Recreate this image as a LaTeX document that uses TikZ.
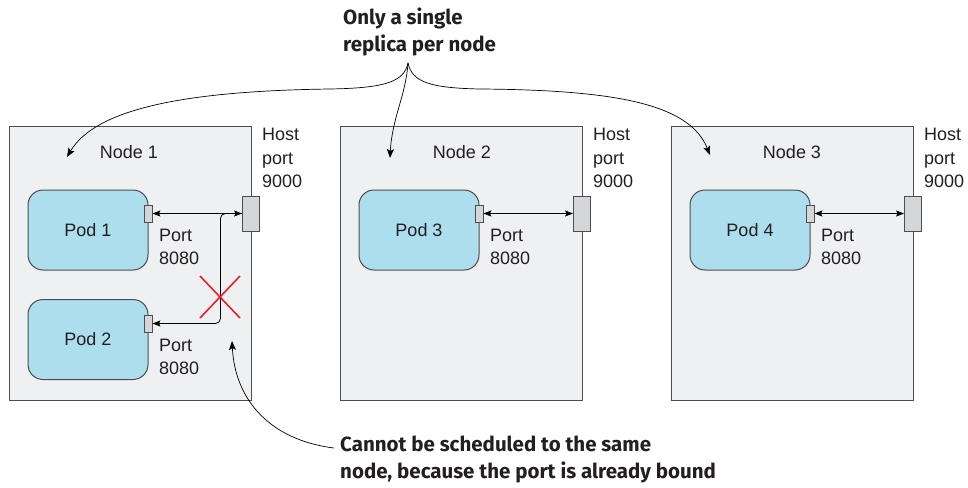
\documentclass[tikz,border=0pt]{standalone}
\usepackage{fontspec}
\setmainfont{Liberation Sans}
\newfontfamily\annfont{Fira Sans}
\usetikzlibrary{arrows.meta}
\definecolor{boxfill}{HTML}{EFF0F2}
\definecolor{boxline}{HTML}{4D4D4F}
\definecolor{podfill}{HTML}{ACDEEE}
\definecolor{portfill}{HTML}{D5D6D8}
\definecolor{txt}{HTML}{231F20}
\definecolor{xred}{HTML}{E8202A}
\begin{document}
\begin{tikzpicture}[x=1pt,y=-1pt,
  nodebox/.style={draw=boxline, fill=boxfill, line width=1pt, minimum width=242pt, minimum height=274pt, inner sep=0pt},
  podbox/.style={draw=boxline, fill=podfill, line width=1pt, rounded corners=15pt, minimum width=120pt, minimum height=80pt, inner sep=0pt, font=\fontsize{18}{22}\selectfont, text=txt},
  smallport/.style={draw=boxline, fill=portfill, line width=0.9pt, minimum width=8pt, minimum height=17pt, inner sep=0pt},
  hostport/.style={draw=boxline, fill=portfill, line width=0.9pt, minimum width=17pt, minimum height=35pt, inner sep=0pt},
  lbl/.style={font=\fontsize{18}{23.5}\selectfont, text=txt, align=left, inner sep=0pt, anchor=north west},
  ttl/.style={font=\fontsize{18}{22}\selectfont, text=txt, inner sep=0pt},
  ann/.style={font=\annfont\bfseries\fontsize{20.5}{26.5}\selectfont, text=txt, align=left, inner sep=0pt, anchor=north west},
  conn/.style={line width=0.8pt, {Stealth[length=8pt,width=6pt,inset=1.5pt]}-{Stealth[length=8pt,width=6pt,inset=1.5pt]}},
  arr/.style={line width=0.8pt, -{Stealth[length=8pt,width=6pt,inset=1.5pt]}},
  callout/.style={line width=0.7pt, -{Stealth[length=9pt,width=7pt,inset=2pt]}}
]
\useasboundingbox (0,0) rectangle (968,487);

% worker nodes
\node[nodebox] (n1) at (130,263) {};
\node[nodebox] (n2) at (461,263) {};
\node[nodebox] (n3) at (792,263) {};

\node[ttl] (t1) at (129,152) {Node 1};
\node[ttl] (t2) at (462,152) {Node 2};
\node[ttl] (t3) at (792,152) {Node 3};

% pods
\node[podbox] (p1) at (88,230) {Pod 1};
\node[podbox] (p2) at (88,339.5) {Pod 2};
\node[podbox] (p3) at (419,230) {Pod 3};
\node[podbox] (p4) at (750,230) {Pod 4};

% pod ports
\node[smallport] (q1) at (148,213.5) {};
\node[smallport] (q2) at (148,323.5) {};
\node[smallport] (q3) at (479,213.5) {};
\node[smallport] (q4) at (810,213.5) {};

% host ports
\node[hostport] (h1) at (251,213.5) {};
\node[hostport] (h2) at (582,213.5) {};
\node[hostport] (h3) at (913,213.5) {};

% labels
\node[lbl] (hl1) at (262,128) {Host\\port\\9000};
\node[lbl] (hl2) at (593,128) {Host\\port\\9000};
\node[lbl] (hl3) at (924,128) {Host\\port\\9000};

\node[lbl] (pl1) at (159,228.5) {Port\\8080};
\node[lbl] (pl2) at (159,338.5) {Port\\8080};
\node[lbl] (pl3) at (490,228.5) {Port\\8080};
\node[lbl] (pl4) at (821,228.5) {Port\\8080};

% connections
\draw[conn] (q1.east) -- (h1.west);
\draw[conn] (q3.east) -- (h2.west);
\draw[conn] (q4.east) -- (h3.west);
\draw[arr, rounded corners=5pt] (h1.west) -| ([xshift=68pt]q2.east) -- (q2.east);

% red cross
\coordinate (xc) at (220,297);
\draw[xred, line width=1.6pt] ([shift={(-20pt,-21pt)}]xc) -- ([shift={(20pt,21pt)}]xc);
\draw[xred, line width=1.6pt] ([shift={(20pt,-21pt)}]xc) -- ([shift={(-20pt,21pt)}]xc);

% annotations
\node[ann] (a1) at (343,8) {Only a single\\replica per node};
\node[ann] (a2) at (340,436) {Cannot be scheduled to the same\\node, because the port is already bound};

\coordinate (tip) at (408,63);
\coordinate (e1) at (67,157);
\coordinate (e2) at (390,158);
\coordinate (e3) at (710,155);
\draw[callout] (tip) .. controls (404,82) and (385,88) .. (330,89) .. controls (180,91) and (95,110) .. (e1);
\draw[callout] (tip) .. controls (406,95) and (392,118) .. (e2);
\draw[callout] (tip) .. controls (412,82) and (430,88) .. (480,89) .. controls (620,90) and (690,105) .. (e3);

\coordinate (b1) at (232,341);
\draw[callout] ([xshift=-6pt,yshift=-12pt]a2.north west) .. controls (270,440) and (235,400) .. (b1);
\end{tikzpicture}
\end{document}
